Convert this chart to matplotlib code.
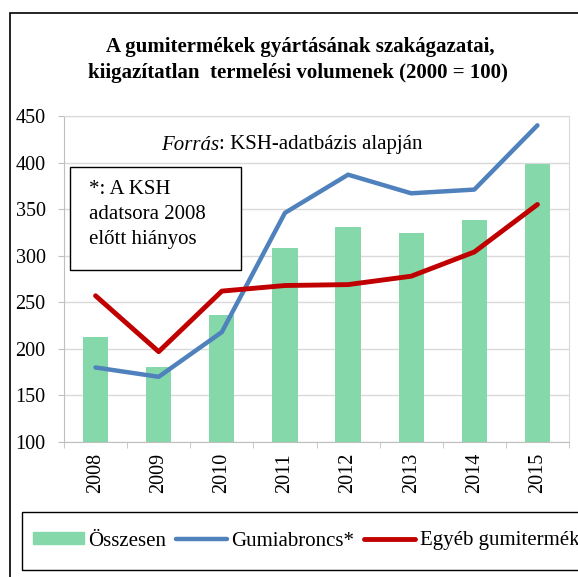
import matplotlib.pyplot as plt
from matplotlib.patches import Rectangle, Patch
from matplotlib.lines import Line2D

years = ["2008", "2009", "2010", "2011", "2012", "2013", "2014", "2015"]
osszesen = [213, 180, 236, 308, 331, 324, 338, 399]
gumiabroncs = [180, 170, 218, 346, 387, 367, 371, 440]
egyeb = [257, 197, 262, 268, 269, 278, 304, 355]

plt.rcParams['font.family'] = ['Liberation Serif', 'DejaVu Serif']

W, H = 578, 577
fig = plt.figure(figsize=(W / 100, H / 100), dpi=100)

def fx(px):
    return px / W

def fy(py):
    return 1 - py / H

# outer chart border (cut off at right and bottom like the reference)
fig.add_artist(Rectangle((fx(10), fy(600)), fx(600), fy(13) - fy(600),
                         transform=fig.transFigure, fill=False, edgecolor='black', lw=1.2))

ax = fig.add_axes([fx(64), fy(442), fx(569) - fx(64), fy(116) - fy(442)])
x = list(range(len(years)))
ax.bar(x, osszesen, width=0.4, color='#84D8A9', zorder=2)
ax.plot(x, gumiabroncs, color='#4F81BD', lw=3.2, zorder=3, solid_capstyle='round')
ax.plot(x, egyeb, color='#C00000', lw=3.5, zorder=4, solid_capstyle='round')

ax.set_xlim(-0.5, len(years) - 0.5)
ax.set_ylim(100, 450)
ax.set_yticks(range(100, 451, 50))
ax.tick_params(axis='y', labelsize=14.5, length=4.3, color='#BFBFBF', pad=9)
ax.set_xticks(x)
ax.set_xticklabels(years, rotation=90, fontsize=14.5)
ax.tick_params(axis='x', length=0, pad=8)
ax.set_xticks([i - 0.5 for i in range(len(years) + 1)], minor=True)
ax.tick_params(axis='x', which='minor', length=4, color='#BFBFBF')
ax.grid(axis='y', color='#D9D9D9', lw=1, zorder=0)
for s in ['left', 'bottom', 'right', 'top']:
    ax.spines[s].set_color('#D9D9D9')
ax.spines['left'].set_color('#BFBFBF')
ax.spines['bottom'].set_color('#BFBFBF')

fig.text(fx(300), fy(47), "A gumitermékek gyártásának szakágazatai,", ha='center', va='center',
         fontsize=15, fontweight='bold')
fig.text(fx(298), fy(73), "kiigazítatlan  termelési volumenek (2000 = 100)", ha='center', va='center',
         fontsize=15, fontweight='bold')

fig.text(fx(219), fy(145), "Forrás", ha='right', va='center', fontsize=15, style='italic')
fig.text(fx(219), fy(145), ": KSH-adatbázis alapján", ha='left', va='center', fontsize=15)

fig.add_artist(Rectangle((fx(70), fy(270)), fx(241) - fx(70), fy(167) - fy(270),
                         transform=fig.transFigure, facecolor='white', edgecolor='black', lw=1, zorder=5))
for i, line in enumerate(["*: A KSH", "adatsora 2008", "előtt hiányos"]):
    fig.text(fx(89), fy(190 + 24.5 * i), line, ha='left', va='center', fontsize=15, zorder=6)

fig.add_artist(Rectangle((fx(21.5), fy(570)), fx(620), fy(512) - fy(570),
                         transform=fig.transFigure, fill=False, edgecolor='black', lw=1))
handles = [Patch(color='#84D8A9'),
           Line2D([], [], color='#4F81BD', lw=3.2, solid_capstyle='round'),
           Line2D([], [], color='#C00000', lw=3.5, solid_capstyle='round')]
fig.legend(handles, ["Összesen", "Gumiabroncs*", "Egyéb gumitermékek"], loc='center left',
           bbox_to_anchor=(fx(32.5), fy(541)), ncol=3, frameon=False, fontsize=15,
           handlelength=2.45, handleheight=0.55, handletextpad=0.24, columnspacing=0.43,
           borderaxespad=0, borderpad=0)

fig.savefig("out.png", dpi=100)
